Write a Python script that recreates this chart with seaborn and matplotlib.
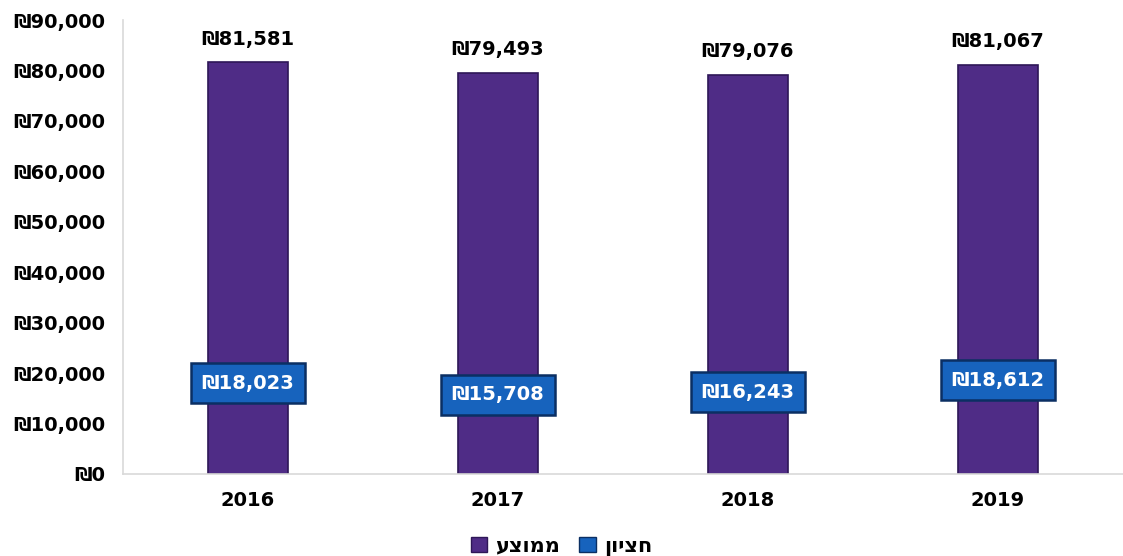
"""
Average vs median salary by year: purple bars for the average,
blue label boxes for the median.
"""

import matplotlib
matplotlib.use("Agg")
import matplotlib.pyplot as plt
import matplotlib.ticker as mticker
from matplotlib.patches import Patch
import pandas as pd
import seaborn as sns

# ============================================================
# DATA
# ============================================================

years = ["2016", "2017", "2018", "2019"]
average_values = [81581, 79493, 79076, 81067]
median_values = [18023, 15708, 16243, 18612]

# Hebrew labels, reversed because matplotlib draws left-to-right
LABEL_AVERAGE = "ממוצע"[::-1]
LABEL_MEDIAN = "חציון"[::-1]

AVG_COLOR = "#4f2c86"
AVG_EDGE = "#2e1757"
MED_COLOR = "#1763bd"
MED_EDGE = "#0b2f63"

# ============================================================
# PLOT
# ============================================================

sns.set_style("white")
plt.rcParams["font.family"] = ["DejaVu Sans"]

df = pd.DataFrame({"year": years, "average": average_values, "median": median_values})

fig = plt.figure(figsize=(11.23, 5.56), dpi=100)
ax = fig.add_axes([0.1095, 0.1475, 0.8905, 0.8165])

sns.barplot(data=df, x="year", y="average", color=AVG_COLOR, width=0.32,
            saturation=1, edgecolor=AVG_EDGE, linewidth=1.2, ax=ax)

# average labels above bars
for i, val in enumerate(average_values):
    ax.annotate(f"\u20aa{val:,}", (i, val), xytext=(0, 10), textcoords="offset points",
                ha="center", va="bottom", fontsize=14, fontweight="bold", color="black")

# median shown as boxed labels at their value
for i, val in enumerate(median_values):
    ax.text(i, val, f"\u20aa{val:,}", ha="center", va="center", fontsize=14,
            fontweight="bold", color="white",
            bbox=dict(boxstyle="square,pad=0.55", facecolor=MED_COLOR,
                      edgecolor=MED_EDGE, linewidth=1.8))

ax.set_xlim(-0.5, 3.5)
ax.set_ylim(0, 90000)
ax.yaxis.set_major_locator(mticker.MultipleLocator(10000))
ax.yaxis.set_major_formatter(mticker.FuncFormatter(lambda v, _: f"\u20aa{v:,.0f}"))
ax.set_xlabel("")
ax.set_ylabel("")
ax.tick_params(axis="both", length=0, labelsize=14, labelcolor="black")
ax.tick_params(axis="y", pad=13)
ax.tick_params(axis="x", pad=12)
for lbl in ax.get_xticklabels() + ax.get_yticklabels():
    lbl.set_fontweight("bold")

for side in ["top", "right"]:
    ax.spines[side].set_visible(False)
ax.spines["left"].set_color("#d9d9d9")
ax.spines["bottom"].set_color("#d9d9d9")
ax.spines["left"].set_linewidth(1.2)
ax.spines["bottom"].set_linewidth(1.2)
ax.grid(False)

handles = [Patch(facecolor=AVG_COLOR, edgecolor=AVG_EDGE, label=LABEL_AVERAGE),
           Patch(facecolor=MED_COLOR, edgecolor=MED_EDGE, label=LABEL_MEDIAN)]
fig.legend(handles=handles, loc="lower center", bbox_to_anchor=(0.5, -0.035), ncol=2,
           frameon=False, prop={"size": 15, "weight": "bold"}, labelcolor="black",
           handlelength=0.8, handleheight=0.8, handletextpad=0.4, columnspacing=0.9)

fig.savefig("out.png", dpi=100)
